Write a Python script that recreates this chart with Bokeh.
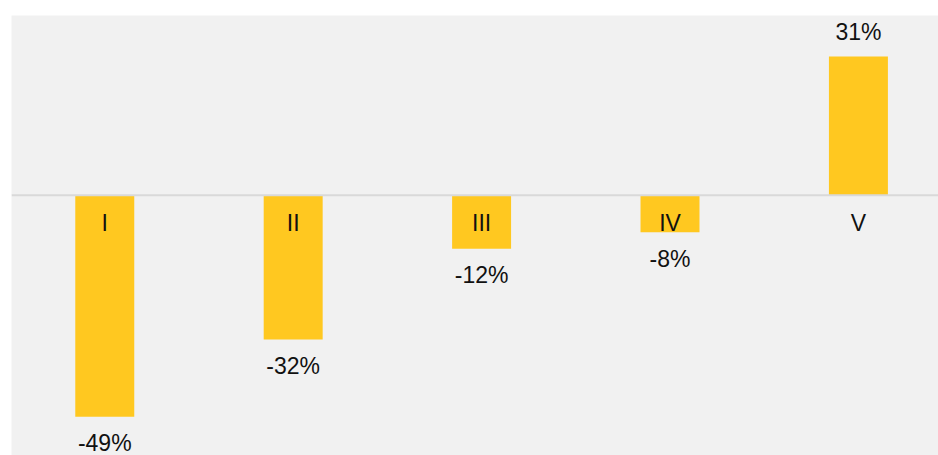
from bokeh.plotting import figure
from bokeh.models import Span, Range1d, ColumnDataSource
from bokeh.core.properties import value
from bokeh.embed import file_html
from bokeh.resources import INLINE

categories = ["I", "II", "III", "IV", "V"]
values = [-49.3, -32.1, -11.9, -8.2, 30.9]
labels = ["-49%", "-32%", "-12%", "-8%", "31%"]

xs = list(range(len(categories)))
src = ColumnDataSource(dict(
    x=xs, top=values, cat=categories, lab=labels,
    loff=[26.5 if v < 0 else -24 for v in values],
))

p = figure(width=938, height=455, output_backend="svg", toolbar_location=None,
           x_range=Range1d(-0.495, 4.425), y_range=Range1d(-57.9, 40),
           min_border_left=11, min_border_top=15, min_border_right=0, min_border_bottom=0,
           background_fill_color="#F1F1F1", border_fill_color="white")
p.xaxis.visible = False
p.yaxis.visible = False
p.grid.visible = False
p.outline_line_color = None

p.vbar(x="x", top="top", bottom=0, width=0.313, source=src,
       fill_color="#FFC820", line_color=None)

p.add_layout(Span(location=0, dimension="width", line_color="#D9D9D9", line_width=2))

p.text(x="x", y=0, text="cat", source=src, y_offset=28,
       text_align="center", text_baseline="middle",
       text_font=value("Liberation Sans"), text_font_size="23px", text_color="#111111")
p.text(x="x", y="top", text="lab", source=src, y_offset="loff",
       text_align="center", text_baseline="middle",
       text_font=value("Liberation Sans"), text_font_size="23px", text_color="#111111")

open("out.html", "w").write(file_html(p, INLINE))
